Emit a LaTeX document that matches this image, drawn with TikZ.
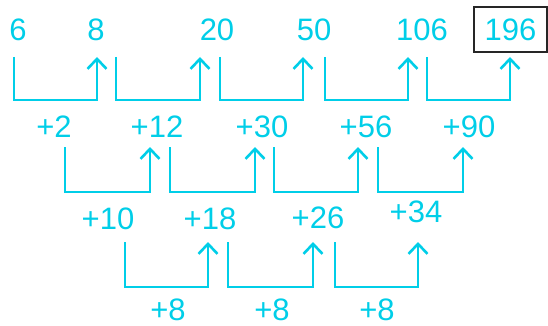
\documentclass[tikz,border=0pt]{standalone}
\usepackage{fontspec}
\setmainfont{Liberation Sans}
\usetikzlibrary{arrows.meta}
\definecolor{seqcyan}{RGB}{0,206,232}

\begin{document}
\begin{tikzpicture}[x=1pt,y=-1pt,>={Straight Barb[length=10pt,width=19pt,line width=2.6pt]},
    every node/.style={inner sep=0pt,text=seqcyan,font=\fontsize{31}{31}\selectfont},
    bracket/.style={seqcyan,line width=2.8pt,->}]
  \useasboundingbox (0,0) rectangle (548,326);
  % the series
  \node (t1) at (18,30) {6};
  \node (t2) at (96,30) {8};
  \node (t3) at (217,30) {20};
  \node (t4) at (314,30) {50};
  \node (t5) at (422,30) {106};
  \node[draw=black!85,line width=2pt,minimum width=73pt,minimum height=45pt] (t6) at (510.5,29.5) {196};
  % first differences
  \node (d1) at (54,127) {+2};
  \node (d2) at (157,127) {+12};
  \node (d3) at (262,127) {+30};
  \node (d4) at (366,127) {+56};
  \node (d5) at (469,127) {+90};
  % second differences
  \node (s1) at (108,219) {+10};
  \node (s2) at (210,219) {+18};
  \node (s3) at (318,218) {+26};
  \node (s4) at (416,212) {+34};
  % third differences
  \node (c1) at (168,310) {+8};
  \node (c2) at (272,310) {+8};
  \node (c3) at (377,310) {+8};
  % brackets
  \foreach \i/\xl/\xr/\yt/\yb in {1/14/97/57/100,2/116/200/57/100,3/220/303/57/100,4/325/408/57/100,5/427/510/57/100,
      6/65/150/147/192,7/170/255/147/192,8/274/358/147/192,9/378/463/147/192,
      10/125/208/242/287,11/228/313/242/287,12/335/418/242/287}{
    \coordinate (bl\i) at (\xl,\yt);
    \coordinate (br\i) at (\xr,\yt);
    \draw[bracket] (bl\i) -- (bl\i |- 0,\yb) -| (br\i);
  }
\end{tikzpicture}
\end{document}
